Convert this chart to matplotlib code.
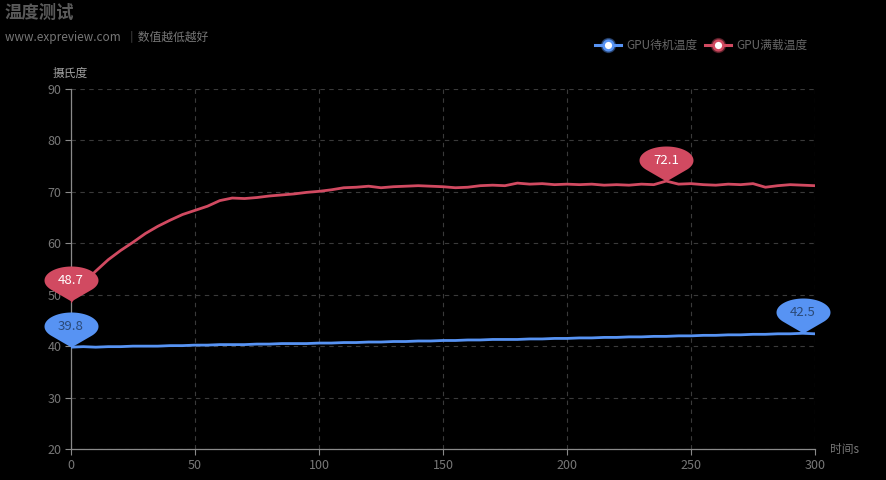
import numpy as np
import matplotlib.pyplot as plt
from matplotlib.path import Path
from matplotlib.lines import Line2D

plt.rcParams['font.family'] = ['Noto Sans CJK SC', 'DejaVu Sans']

# data: one reading every 5 s
seconds = list(range(0, 301, 5))
gpu_idle = [39.8, 39.9, 39.8, 39.9, 39.9, 40.0, 40.0, 40.0, 40.1, 40.1,
            40.2, 40.2, 40.3, 40.3, 40.3, 40.4, 40.4, 40.5, 40.5, 40.5,
            40.6, 40.6, 40.7, 40.7, 40.8, 40.8, 40.9, 40.9, 41.0, 41.0,
            41.1, 41.1, 41.2, 41.2, 41.3, 41.3, 41.3, 41.4, 41.4, 41.5,
            41.5, 41.6, 41.6, 41.7, 41.7, 41.8, 41.8, 41.9, 41.9, 42.0,
            42.0, 42.1, 42.1, 42.2, 42.2, 42.3, 42.3, 42.4, 42.4, 42.5,
            42.4]
gpu_load = [48.7, 52.2, 54.6, 56.8, 58.6, 60.2, 61.9, 63.3, 64.5, 65.6,
            66.4, 67.2, 68.3, 68.8, 68.7, 68.9, 69.2, 69.4, 69.6, 69.9,
            70.1, 70.4, 70.8, 70.9, 71.1, 70.8, 71.0, 71.1, 71.2, 71.1,
            71.0, 70.8, 70.9, 71.2, 71.3, 71.2, 71.7, 71.5, 71.6, 71.4,
            71.5, 71.4, 71.5, 71.3, 71.4, 71.3, 71.5, 71.4, 72.1, 71.5,
            71.6, 71.4, 71.3, 71.5, 71.4, 71.6, 70.9, 71.2, 71.4, 71.3,
            71.2]
series_names = ['GPU待机温度', 'GPU满载温度']
colors = ['#5793f3', '#d14a61']
pin_text = ['#2b4a78', 'white']

W, H = 886, 480
fig = plt.figure(figsize=(W / 100, H / 100), dpi=100, facecolor='black')
ax = fig.add_axes([71 / W, 31 / H, 744 / W, 360 / H], facecolor='black')

for vals, c in zip([gpu_idle, gpu_load], colors):
    ax.plot(seconds, vals, color=c, lw=2.0, zorder=3)

ax.set_xlim(0, 300)
ax.set_ylim(20, 90)
ax.set_xticks(range(0, 301, 50))
ax.set_yticks(range(20, 91, 10))
ax.grid(True, color='#3a3a3a', linestyle=(0, (4, 4)), linewidth=0.8)
for s in ['top', 'right']:
    ax.spines[s].set_visible(False)
for s in ['left', 'bottom']:
    ax.spines[s].set_color('#8a8a8a')
    ax.spines[s].set_linewidth(0.9)
ax.tick_params(colors='#8a8a8a', labelsize=9, length=4, width=0.8)
ax.tick_params(axis='y', pad=3)
for lab in ax.get_xticklabels() + ax.get_yticklabels():
    lab.set_color('#777777')

# axis names
fig.text(53 / W, 1 - 73 / H, '摄氏度', color='#a0a0a0', fontsize=8.5,
         va='center', ha='left')
fig.text(830 / W, 1 - 449 / H, '时间s', color='#777777', fontsize=8.5,
         va='center', ha='left')

# title
fig.text(5 / W, 1 - 13 / H, '温度测试', color='#5a5a5a', fontsize=12.5,
         fontweight='bold', va='center', ha='left')
fig.text(5 / W, 1 - 37 / H, 'www.expreview.com  ｜数值越低越好', color='#777777',
         fontsize=8.5, va='center', ha='left')

# legend
leg_x = [595, 705]
for x0, name, c in zip(leg_x, series_names, colors):
    yy = 1 - 45 / H
    fig.add_artist(Line2D([x0 / W, (x0 + 26) / W], [yy, yy], color=c, lw=2.2,
                          transform=fig.transFigure))
    fig.add_artist(Line2D([(x0 + 13) / W], [yy], marker='o', ms=10, mfc=c,
                          mec=c, alpha=0.35, transform=fig.transFigure))
    fig.add_artist(Line2D([(x0 + 13) / W], [yy], marker='o', ms=7, mfc='white',
                          mec=c, mew=1.8, transform=fig.transFigure))
    fig.text((x0 + 31) / W, yy, name, color='#666666', fontsize=8.5,
             va='center', ha='left')

# pin marker (units: pixels), tip at origin
a, b, cy = 27.0, 14.0, 21.0
th0 = np.arcsin(-b / cy)
th = np.linspace(th0, np.pi - th0, 60)
verts = [(0, 0)] + [(a * np.cos(t), cy + b * np.sin(t)) for t in th] + [(0, 0)]
pin = Path(verts, closed=True)
ext = max(np.max(np.abs(np.array(verts))), 1)
px2pt = 72 / 100
pin_ms = 2 * ext * px2pt

for vals, c, tc in zip([gpu_idle, gpu_load], colors, pin_text):
    v = np.array(vals)
    for i in [int(np.argmin(v)), int(np.argmax(v))]:
        ax.plot(seconds[i], vals[i], marker=pin, ms=pin_ms, color=c, mew=0,
                zorder=5, clip_on=False)
        ax.annotate(f'{vals[i]:.1f}', (seconds[i], vals[i]),
                    xytext=(0, cy * px2pt), textcoords='offset points',
                    ha='center', va='center', color=tc, fontsize=9.5,
                    zorder=6, annotation_clip=False)

fig.savefig('out.png', dpi=100, facecolor='black')
